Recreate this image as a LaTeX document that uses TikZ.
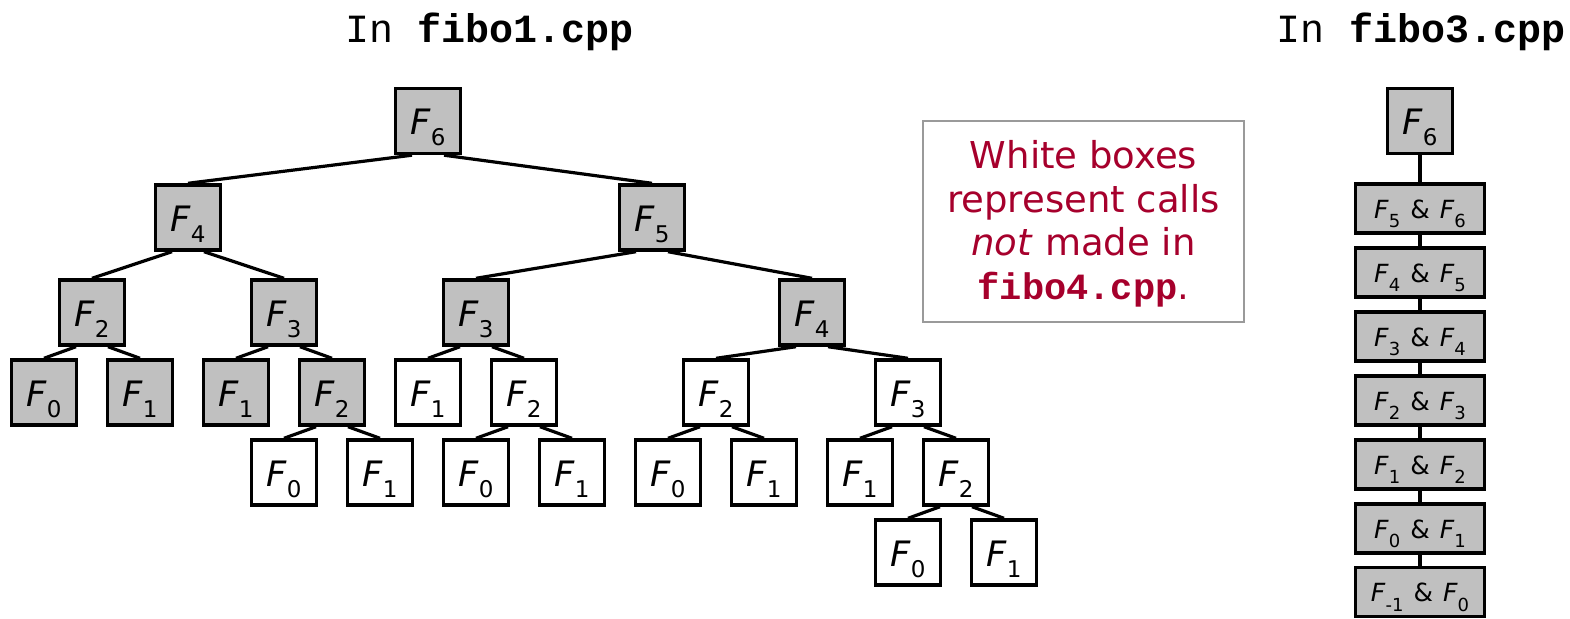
\documentclass[tikz,border=0pt]{standalone}
\usepackage{fontspec}
\setmainfont{DejaVu Sans}
\setmonofont{Liberation Mono}
\usetikzlibrary{calc}
\definecolor{boxgray}{HTML}{C0C0C0}
\definecolor{notegray}{HTML}{9A9A9A}
\definecolor{notered}{HTML}{A6002C}
\newcommand\Fs[1]{\textit{F}\raisebox{-11pt}{\fontsize{23}{23}\selectfont #1}}
\newcommand\Fp[1]{\textit{F}\raisebox{-9.5pt}{\fontsize{18}{18}\selectfont #1}}
\newcommand\amp{\hspace{0.4em}\&\hspace{0.4em}}
\tikzset{
  gbox/.style={draw, line width=3.4pt, fill=boxgray, minimum width=65pt, minimum height=65pt,
    inner sep=0pt, text height=27pt, text depth=0pt, font=\fontsize{35}{35}\selectfont},
  wbox/.style={gbox, fill=white},
  pbox/.style={draw, line width=3.4pt, fill=boxgray, minimum width=129pt, minimum height=49pt,
    inner sep=0pt, text height=19.6pt, text depth=0pt, font=\fontsize{25}{25}\selectfont},
  edge/.style={line width=3.2pt},
  title/.style={anchor=base, font=\fontsize{40}{40}\selectfont\ttfamily},
}
\newcommand\lft[2]{\draw[edge] ([xshift=-16pt]#1.south) -- (#2.north);}
\newcommand\rgt[2]{\draw[edge] ([xshift=16pt]#1.south) -- (#2.north);}
\begin{document}
\begin{tikzpicture}[x=1pt,y=-1pt]
\useasboundingbox (0,0) rectangle (1570,618);
% titles
\node[title] (t1) at (490,43) {In \textbf{fibo1.cpp}};
\node[title] (t3) at (1421,43) {In \textbf{fibo3.cpp}};
% tree
\node[gbox] (a6) at (428,121) {\Fs{6}};
\node[gbox] (b4) at (188,217.5) {\Fs{4}};
\node[gbox] (b5) at (652,217.5) {\Fs{5}};
\node[gbox] (c2) at (92,312.5) {\Fs{2}};
\node[gbox] (c3) at (284,312.5) {\Fs{3}};
\node[gbox] (c3b) at (476,312.5) {\Fs{3}};
\node[gbox] (c4) at (812,312.5) {\Fs{4}};
\node[gbox] (d0) at (44,392.5) {\Fs{0}};
\node[gbox] (d1) at (140,392.5) {\Fs{1}};
\node[gbox] (d1b) at (236,392.5) {\Fs{1}};
\node[gbox] (d2) at (332,392.5) {\Fs{2}};
\node[wbox] (d1c) at (428,392.5) {\Fs{1}};
\node[wbox] (d2b) at (524,392.5) {\Fs{2}};
\node[wbox] (d2c) at (716,392.5) {\Fs{2}};
\node[wbox] (d3) at (908,392.5) {\Fs{3}};
\node[wbox] (e0) at (284,472.5) {\Fs{0}};
\node[wbox] (e1) at (380,472.5) {\Fs{1}};
\node[wbox] (e0b) at (476,472.5) {\Fs{0}};
\node[wbox] (e1b) at (572,472.5) {\Fs{1}};
\node[wbox] (e0c) at (668,472.5) {\Fs{0}};
\node[wbox] (e1c) at (764,472.5) {\Fs{1}};
\node[wbox] (e1d) at (860,472.5) {\Fs{1}};
\node[wbox] (e2) at (956,472.5) {\Fs{2}};
\node[wbox] (f0) at (908,552.5) {\Fs{0}};
\node[wbox] (f1) at (1004,552.5) {\Fs{1}};
\lft{a6}{b4} \rgt{a6}{b5}
\lft{b4}{c2} \rgt{b4}{c3}
\lft{b5}{c3b} \rgt{b5}{c4}
\lft{c2}{d0} \rgt{c2}{d1}
\lft{c3}{d1b} \rgt{c3}{d2}
\lft{c3b}{d1c} \rgt{c3b}{d2b}
\lft{c4}{d2c} \rgt{c4}{d3}
\lft{d2}{e0} \rgt{d2}{e1}
\lft{d2b}{e0b} \rgt{d2b}{e1b}
\lft{d2c}{e0c} \rgt{d2c}{e1c}
\lft{d3}{e1d} \rgt{d3}{e2}
\lft{e2}{f0} \rgt{e2}{f1}
% note
\node[draw=notegray, line width=2.8pt, minimum width=321pt, minimum height=201pt, inner sep=0pt,
  text height=155pt, text depth=0pt, text=notered] (note) at (1083.5,221.5)
  {\parbox[b]{310pt}{\centering\fontsize{37}{43.5}\selectfont White boxes\\ represent calls\\ \textit{not} made in\\ \texttt{\textbf{fibo4.cpp}}.}};
% right column
\node[gbox] (r6) at (1420,121) {\Fs{6}};
\node[pbox] (p1) at (1420,208.5) {\Fp{5}\amp\Fp{6}};
\node[pbox] (p2) at (1420,272.5) {\Fp{4}\amp\Fp{5}};
\node[pbox] (p3) at (1420,336.5) {\Fp{3}\amp\Fp{4}};
\node[pbox] (p4) at (1420,400.5) {\Fp{2}\amp\Fp{3}};
\node[pbox] (p5) at (1420,464.5) {\Fp{1}\amp\Fp{2}};
\node[pbox] (p6) at (1420,528.5) {\Fp{0}\amp\Fp{1}};
\node[pbox] (p7) at (1420,592) {\Fp{-1}\amp\Fp{0}};
\draw[edge] (r6.south) -- (p1.north);
\draw[edge] (p1.south) -- (p2.north);
\draw[edge] (p2.south) -- (p3.north);
\draw[edge] (p3.south) -- (p4.north);
\draw[edge] (p4.south) -- (p5.north);
\draw[edge] (p5.south) -- (p6.north);
\draw[edge] (p6.south) -- (p7.north);
\end{tikzpicture}
\end{document}
